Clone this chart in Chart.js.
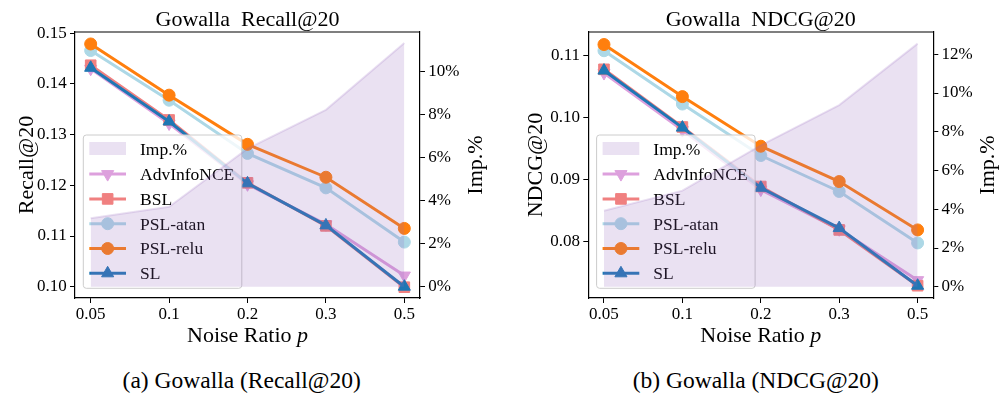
<!DOCTYPE html>
<html><head><meta charset="utf-8">
<script src="https://cdn.jsdelivr.net/npm/chart.js@4.4.1/dist/chart.umd.min.js"></script>
<style>
html,body{margin:0;padding:0;background:#fff;width:1000px;height:398px;overflow:hidden;position:relative;font-family:'Liberation Serif',serif;}
canvas{position:absolute;top:0;}
#c1{left:0}#c2{left:500px}
.cap{position:absolute;top:368px;font-size:23.5px;line-height:24px;white-space:nowrap;transform:translateX(-50%);color:#000;}
</style></head><body>
<canvas id="c1" width="500" height="350"></canvas>
<canvas id="c2" width="500" height="350"></canvas>
<div class="cap" style="left:241.7px">(a) Gowalla (Recall@20)</div>
<div class="cap" style="left:755.8px">(b) Gowalla (NDCG@20)</div>
<script>
// ---- data ----
const noiseRatios = ['0.05','0.1','0.2','0.3','0.5'];
const seriesNames = ['AdvInfoNCE','BSL','PSL-atan','PSL-relu','SL'];
// Recall@20
const recallAdvInfoNCE = [0.1430,0.1322,0.1202,0.1123,0.1022];
const recallBSL        = [0.1437,0.1329,0.1205,0.1120,0.0999];
const recallPSLatan    = [0.1466,0.1368,0.1263,0.1195,0.1088];
const recallPSLrelu    = [0.1479,0.1378,0.1281,0.1216,0.1115];
const recallSL         = [0.1432,0.1326,0.1204,0.1121,0.1000];
const recallImp        = [3.17,3.71,6.4,8.2,11.3];
// NDCG@20
const ndcgAdvInfoNCE = [0.1072,0.0980,0.0884,0.0820,0.0738];
const ndcgBSL        = [0.1078,0.0985,0.0889,0.0819,0.0729];
const ndcgPSLatan    = [0.1108,0.1022,0.0939,0.0881,0.0798];
const ndcgPSLrelu    = [0.1118,0.1034,0.0954,0.0897,0.0819];
const ndcgSL         = [0.1076,0.0984,0.0887,0.0822,0.0729];
const ndcgImp        = [3.92,4.96,7.3,9.38,12.55];
// tick labels
const recallTicks = [0.10,0.11,0.12,0.13,0.14,0.15];
const ndcgTicks = [0.08,0.09,0.10,0.11];
const recallImpTicks = [0,2,4,6,8,10];
const ndcgImpTicks = [0,2,4,6,8,10,12];

// ---- styles ----
const FONT = "'Liberation Serif', 'Times New Roman', serif";
Chart.defaults.font.family = FONT;
Chart.defaults.color = '#000';
const styles = {
  'AdvInfoNCE': {color:'#dda0dd', pointStyle:'triangle', rotation:180, radius:7},
  'BSL':        {color:'#f08080', pointStyle:'rect', rotation:0, radius:7.5},
  'PSL-atan':   {color:'#add8e6', pointStyle:'circle', rotation:0, radius:6},
  'PSL-relu':   {color:'#ff7f0e', pointStyle:'circle', rotation:0, radius:6},
  'SL':         {color:'#1f77b4', pointStyle:'triangle', rotation:0, radius:7}
};
const impFill = 'rgba(148,103,189,0.2)';

function drawMarker(ctx, st, x, y){
  const r = st.radius;
  ctx.beginPath();
  if (st.pointStyle === 'circle') {
    ctx.arc(x, y, r, 0, Math.PI*2);
  } else if (st.pointStyle === 'rect') {
    const s = r/Math.SQRT2;
    ctx.rect(x-s, y-s, 2*s, 2*s);
  } else {
    let rad = st.rotation*Math.PI/180;
    ctx.moveTo(x + Math.sin(rad)*r, y - Math.cos(rad)*r);
    rad += 2*Math.PI/3;
    ctx.lineTo(x + Math.sin(rad)*r, y - Math.cos(rad)*r);
    rad += 2*Math.PI/3;
    ctx.lineTo(x + Math.sin(rad)*r, y - Math.cos(rad)*r);
    ctx.closePath();
  }
  ctx.fillStyle = st.color; ctx.strokeStyle = st.color; ctx.lineWidth = 1;
  ctx.fill(); ctx.stroke();
}

function drawLegend(chart){
  const ctx = chart.ctx, ca = chart.chartArea;
  const lw = 158.5, lh = 153.3;
  const lx = ca.left + 8.3, ly = ca.bottom - 9.7 - lh;
  ctx.save();
  ctx.beginPath();
  if (ctx.roundRect) ctx.roundRect(lx, ly, lw, lh, 3); else ctx.rect(lx, ly, lw, lh);
  ctx.fillStyle = 'rgba(255,255,255,0.8)';
  ctx.fill();
  ctx.strokeStyle = '#cccccc'; ctx.lineWidth = 1; ctx.stroke();
  const labels = ['Imp.%'].concat(seriesNames);
  ctx.font = '17.5px ' + FONT;
  ctx.textAlign = 'left'; ctx.textBaseline = 'alphabetic';
  labels.forEach((lab, i) => {
    const cy = ly + 14.3 + i*24.8;
    const hx0 = lx + 6, hx1 = lx + 42.7, hm = (hx0+hx1)/2;
    if (i === 0) {
      ctx.fillStyle = impFill;
      ctx.fillRect(hx0, cy-7.3, hx1-hx0, 13);
    } else {
      const st = styles[lab];
      ctx.beginPath(); ctx.moveTo(hx0, cy); ctx.lineTo(hx1, cy);
      ctx.strokeStyle = st.color; ctx.lineWidth = 3; ctx.stroke();
      drawMarker(ctx, st, hm, cy);
    }
    ctx.fillStyle = '#000';
    ctx.fillText(lab, lx + 56.7, cy + 5.8);
  });
  ctx.restore();
}

const decor = {
  id: 'decor',
  afterDatasetDraw(chart, args){
    if (args.index === 0) drawLegend(chart);
  },
  afterDraw(chart, args, o){
    const ctx = chart.ctx, ca = chart.chartArea;
    ctx.save();
    // top spine
    ctx.beginPath(); ctx.moveTo(ca.left, ca.top); ctx.lineTo(ca.right, ca.top);
    ctx.strokeStyle = '#000'; ctx.lineWidth = 1.2; ctx.stroke();
    ctx.fillStyle = '#000';
    // title
    ctx.font = '22px ' + FONT; ctx.textAlign = 'center'; ctx.textBaseline = 'alphabetic';
    ctx.fillText(o.title, (ca.left+ca.right)/2, 26);
    // x title with italic p
    const t1 = 'Noise Ratio ', t2 = 'p';
    ctx.font = '22px ' + FONT; const w1 = ctx.measureText(t1).width;
    ctx.font = 'italic 22px ' + FONT; const w2 = ctx.measureText(t2).width;
    const xs = (ca.left+ca.right)/2 - (w1+w2)/2;
    ctx.textAlign = 'left';
    ctx.font = '22px ' + FONT; ctx.fillText(t1, xs, 341.5);
    ctx.font = 'italic 22px ' + FONT; ctx.fillText(t2, xs + w1, 341.5);
    // y titles
    ctx.font = '22px ' + FONT; ctx.textAlign = 'center';
    const cy = (ca.top+ca.bottom)/2;
    [[o.yTitle, o.yTitleX],[o.y2Title, o.y2TitleX]].forEach(([t, x]) => {
      ctx.save(); ctx.translate(x, cy); ctx.rotate(-Math.PI/2);
      ctx.fillText(t, 0, 0); ctx.restore();
    });
    ctx.restore();
  }
};

function makeChart(id, o){
  const lines = [
    ['SL', o.sl], ['PSL-relu', o.relu], ['PSL-atan', o.atan], ['BSL', o.bsl], ['AdvInfoNCE', o.adv]
  ];
  const datasets = lines.map(([name, vals]) => {
    const st = styles[name];
    return {
      label: name, yAxisID: 'y', order: 0,
      data: vals.map((v,i)=>({x:i, y:v})),
      borderColor: st.color, backgroundColor: st.color, borderWidth: 3,
      pointStyle: st.pointStyle, pointRotation: st.rotation, pointRadius: st.radius,
      pointBorderColor: st.color, pointBackgroundColor: st.color, pointBorderWidth: 1,
      fill: false, tension: 0
    };
  });
  datasets.push({
    label: 'Imp.%', yAxisID: 'y2', order: -1,
    data: o.imp.map((v,i)=>({x:i, y:v})),
    borderColor: impFill, backgroundColor: impFill, borderWidth: 2,
    pointRadius: 0, fill: {value: 0}, tension: 0
  });
  const gridOpt = {drawOnChartArea:false, drawTicks:true, tickLength:5, tickColor:'#000', tickWidth:1};
  const borderOpt = {display:true, color:'#000', width:1.2};
  new Chart(document.getElementById(id), {
    type: 'line',
    data: {datasets},
    options: {
      responsive: false, animation: false, devicePixelRatio: 1,
      layout: {padding: {top: 32, left: 0, right: 0, bottom: 0}},
      plugins: {legend: {display:false}, tooltip: {enabled:false}, title: {display:false},
        decor: {title: o.title, yTitle: o.yTitle, yTitleX: o.yTitleX, y2Title: 'Imp.%', y2TitleX: o.y2TitleX}},
      scales: {
        x: {type:'linear', min:-0.2, max:4.2, bounds:'data',
          afterBuildTicks: s => { s.ticks = noiseRatios.map((_,i)=>({value:i})); },
          ticks: {callback: (v,i) => noiseRatios[i], font:{size:17}, color:'#000', padding:1, maxRotation:0, autoSkip:false},
          grid: gridOpt, border: borderOpt,
          afterFit: s => { s.height = 52; }
        },
        y: {type:'linear', position:'left', min:o.yMin, max:o.yMax, bounds:'data',
          afterBuildTicks: s => { s.ticks = o.yTicks.map(v=>({value:v})); },
          ticks: {callback: v => v.toFixed(2), font:{size:17}, color:'#000', padding:3.3},
          grid: gridOpt, border: borderOpt,
          afterFit: s => { s.width = o.leftW; }
        },
        y2: {type:'linear', position:'right', min:o.y2Min, max:o.y2Max, bounds:'data',
          afterBuildTicks: s => { s.ticks = o.y2Ticks.map(v=>({value:v})); },
          ticks: {callback: v => v + '%', font:{size:17}, color:'#000', padding:3.3},
          grid: gridOpt, border: borderOpt,
          afterFit: s => { s.width = o.rightW; }
        }
      }
    },
    plugins: [decor]
  });
}

makeChart('c1', {
  title: 'Gowalla  Recall@20', yTitle: 'Recall@20', yTitleX: 33.3, y2TitleX: 481.5,
  adv: recallAdvInfoNCE, bsl: recallBSL, atan: recallPSLatan, relu: recallPSLrelu, sl: recallSL, imp: recallImp,
  yMin: 0.09777, yMax: 0.15026, yTicks: recallTicks,
  y2Min: -0.524, y2Max: 11.81, y2Ticks: recallImpTicks,
  leftW: 75, rightW: 80
});
makeChart('c2', {
  title: 'Gowalla  NDCG@20', yTitle: 'NDCG@20', yTitleX: 42, y2TitleX: 494,
  adv: ndcgAdvInfoNCE, bsl: ndcgBSL, atan: ndcgPSLatan, relu: ndcgPSLrelu, sl: ndcgSL, imp: ndcgImp,
  yMin: 0.07092, yMax: 0.11382, yTicks: ndcgTicks,
  y2Min: -0.58, y2Max: 13.15, y2Ticks: ndcgImpTicks,
  leftW: 88.3, rightW: 66.7
});
</script>
</body></html>
